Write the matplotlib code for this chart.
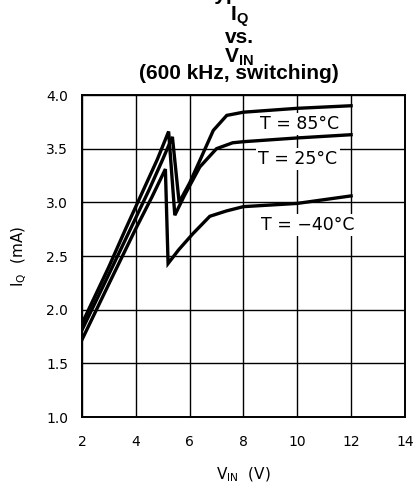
import matplotlib
matplotlib.use('Agg')
import matplotlib.pyplot as plt

# Quiescent current vs input voltage
v_85 = [2.0, 3.0, 3.78, 4.5, 5.0, 5.36, 5.61, 6.0, 6.38, 6.88, 7.38, 8.0, 10.0, 12.0]
i_85 = [1.81, 2.33, 2.74, 3.12, 3.40, 3.61, 3.00, 3.18, 3.39, 3.67, 3.81, 3.84, 3.876, 3.90]

v_25 = [2.0, 3.0, 3.6, 4.2, 4.8, 5.22, 5.45, 5.8, 6.38, 7.0, 7.6, 8.0, 10.0, 12.0]
i_25 = [1.87, 2.40, 2.74, 3.07, 3.40, 3.66, 2.88, 3.06, 3.33, 3.50, 3.555, 3.565, 3.60, 3.63]

v_m40 = [2.0, 3.0, 3.97, 4.6, 5.1, 5.2, 5.6, 6.13, 6.75, 7.37, 8.0, 10.0, 12.0]
i_m40 = [1.72, 2.24, 2.74, 3.05, 3.31, 2.43, 2.56, 2.71, 2.87, 2.92, 2.96, 2.99, 3.06]

x_ticks = [2, 4, 6, 8, 10, 12, 14]
y_ticks = [1.0, 1.5, 2.0, 2.5, 3.0, 3.5, 4.0]

sans = 'DejaVu Sans'
bold = 'Liberation Sans'

fig = plt.figure(figsize=(4.14, 4.91), dpi=100)
ax = fig.add_axes([0.198, 0.1507, 0.780, 0.6558])

for v, i in [(v_85, i_85), (v_25, i_25), (v_m40, i_m40)]:
    ax.plot(v, i, color='black', lw=2.4, zorder=4, solid_joinstyle='miter')

ax.set_xlim(2, 14)
ax.set_ylim(1.0, 4.0)
ax.set_xticks(x_ticks)
ax.set_yticks(y_ticks)
ax.set_xticklabels([str(t) for t in x_ticks], family=sans, fontsize=10)
ax.set_yticklabels(['%.1f' % t for t in y_ticks], family=sans, fontsize=10)
ax.tick_params(length=0)
ax.tick_params(axis='x', pad=13)
ax.tick_params(axis='y', pad=10)
ax.set_axisbelow(True)
ax.grid(color='black', lw=1.0)
for s in ax.spines.values():
    s.set_linewidth(1.4)

ax.set_xlabel(r'V$_{\mathregular{IN}}$  (V)', family=sans, fontsize=11, labelpad=12)
ax.set_ylabel(r'I$_{\mathregular{Q}}$  (mA)', family=sans, fontsize=11, labelpad=12)

box = dict(facecolor='white', edgecolor='none', pad=1.5)
ax.text(10.1, 3.73, 'T = 85°C', family=sans, fontsize=12.5, ha='center', va='center', bbox=box, zorder=3)
ax.text(10.03, 3.40, 'T = 25°C', family=sans, fontsize=12.5, ha='center', va='center', bbox=box, zorder=3)
ax.text(10.38, 2.79, 'T = \u221240°C', family=sans, fontsize=12.5, ha='center', va='center', bbox=box, zorder=3)

# stacked title, first line runs off the top of the image
tx = 239 / 414
for txt, base in [('Typical', 0), (r'I$_{\mathregular{Q}}$', 20), ('vs.', 43),
                  (r'V$_{\mathregular{IN}}$', 62), ('(600 kHz, switching)', 79)]:
    fig.text(tx, 1 - base / 491, txt, family=bold, weight='bold', fontsize=15,
             ha='center', va='baseline')

fig.savefig('out.png', dpi=100)
plt.close(fig)
